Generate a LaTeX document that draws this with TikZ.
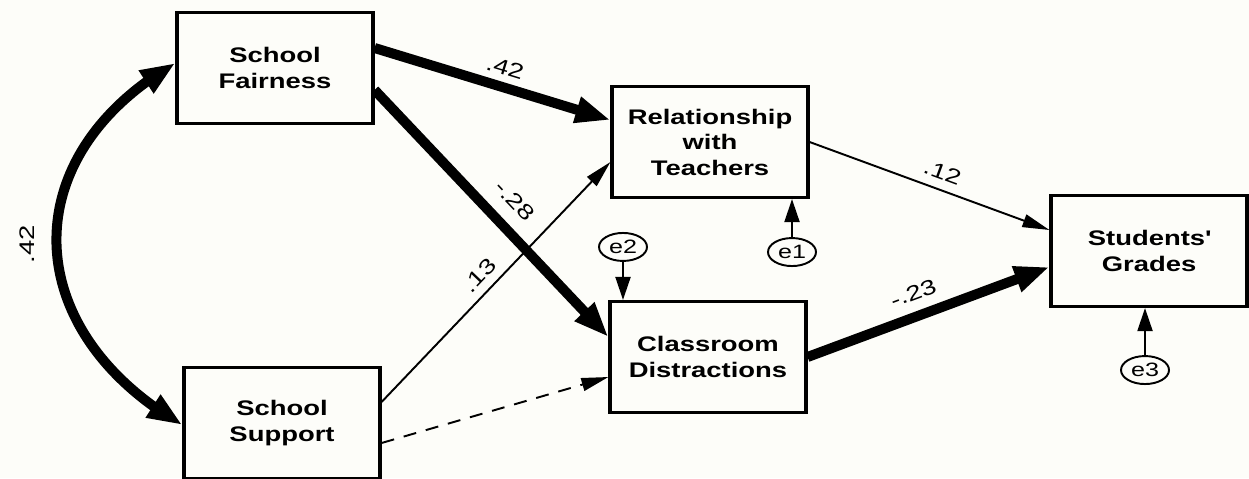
\documentclass[tikz,border=0pt]{standalone}
\usepackage{fontspec}
\setmainfont{Liberation Sans}[FakeStretch=1.3]
\usetikzlibrary{positioning,arrows.meta,calc,shapes.geometric,bending}
\definecolor{fondo}{RGB}{253,253,249}

\begin{document}
\begin{tikzpicture}[
    x=0.2mm, y=0.2mm,
    font=\fontsize{12}{14.5}\selectfont,
    obs/.style={draw, line width=1.8pt, fill=fondo, minimum width=39.2mm,
                minimum height=22.2mm, align=center, font=\fontsize{12}{14.5}\selectfont\bfseries},
    resid/.style={draw, ellipse, line width=1.1pt, fill=fondo, minimum width=9.6mm,
                  minimum height=5.6mm, inner sep=0pt, font=\fontsize{11}{13}\selectfont},
    fuerte/.style={-{Triangle[length=7mm,width=5mm]}, line width=2mm},
    debil/.style={-{Triangle[length=5.4mm,width=2.6mm]}, line width=1.1pt},
    ns/.style={debil, dash pattern=on 2.6mm off 2mm},
    err/.style={-{Triangle[length=4.6mm,width=3mm]}, line width=1.2pt},
    coef/.style={sloped, inner sep=2pt}
]

\fill[fondo] (0,0) rectangle (1249,478);
\useasboundingbox (0,0) rectangle (1249,478);

\node[obs] (sf) at (275,410)  {School\\Fairness};
\node[obs] (ss) at (282,55)   {School\\Support};
\node[obs] (rt) at (710,336)  {Relationship\\with\\Teachers};
\node[obs] (cd) at (708,121)  {Classroom\\Distractions};
\node[obs] (sg) at (1149,227) {Students\textquotesingle\\Grades};

\node[resid, below=7.6mm of rt, xshift=16.4mm] (e1) {e1};
\node[resid, above=7.6mm of cd, xshift=-17mm]  (e2) {e2};
\node[resid, below=9.4mm of sg, xshift=-0.8mm] (e3) {e3};

% correlacion entre los dos predictores
\draw[{Triangle[length=7mm,width=5mm]}-{Triangle[length=7mm,width=5mm]}, line width=2mm]
    ($(sf.west)+(0,5)$) to[out=210, in=150, looseness=1.33]
    node[midway, anchor=south, rotate=90, inner sep=3.4mm] {.42} ($(ss.west)+(0,-2)$);

% efectos directos
\draw[fuerte] ($(sf.east)+(0,20)$) -- ($(rt.west)+(0,22)$) node[coef, pos=0.53, above=2pt] {.42};
\draw[fuerte] ($(sf.east)+(0,-22)$) -- ($(cd.west)+(0,20)$) node[coef, pos=0.52, above=5.5pt] {-.28};
\draw[debil] ($(ss.east)+(0,21)$) -- ($(rt.west)+(0,-20)$) node[coef, pos=0.48, above=2.5pt] {.13};
\draw[ns] ($(ss.east)+(0,-20)$) -- ($(cd.west)+(0,-20)$);
\draw[debil] (rt.east) -- ($(sg.west)+(0,21)$) node[coef, pos=0.53, above=3pt] {.12};
\draw[fuerte] (cd.east) -- ($(sg.west)+(0,-16)$) node[coef, pos=0.47, above=4pt] {-.23};

% errores
\draw[err] (e1) -- (rt.south -| e1);
\draw[err] (e2) -- (cd.north -| e2);
\draw[err] (e3) -- (sg.south -| e3);

\end{tikzpicture}
\end{document}
